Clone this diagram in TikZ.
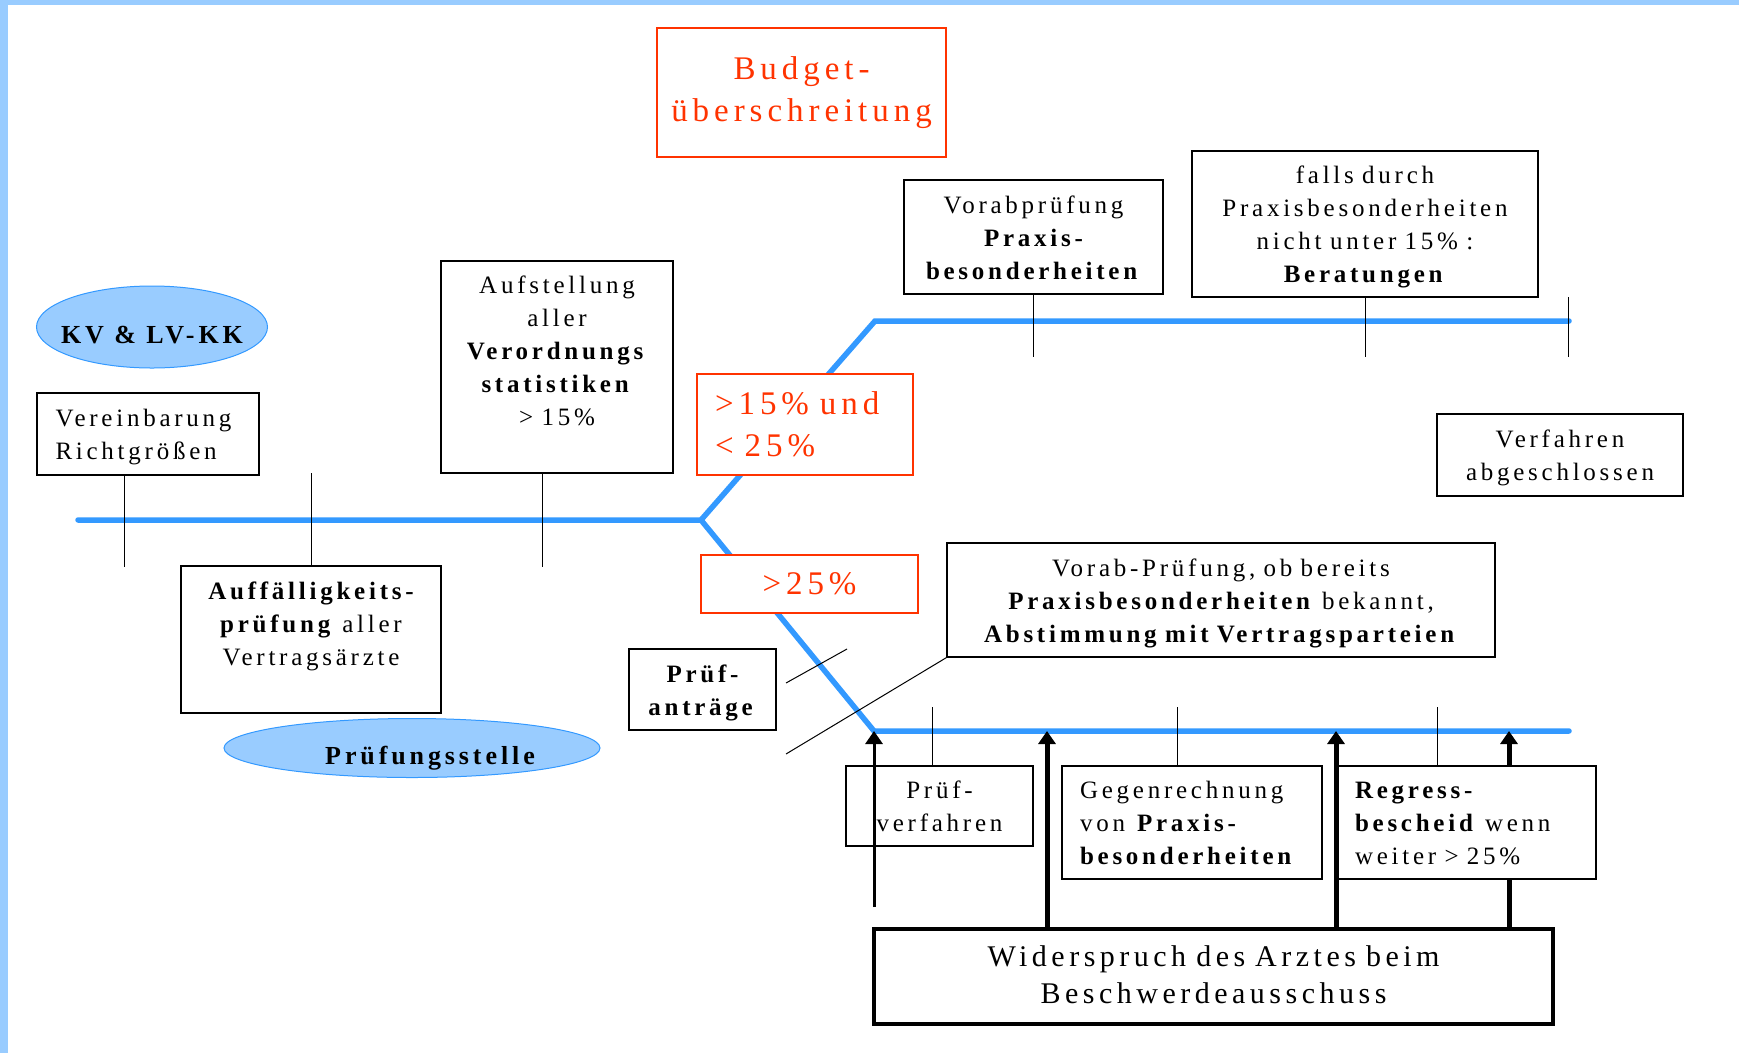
\documentclass[tikz,border=0pt]{standalone}
\usepackage{fontspec}
\setmainfont{Liberation Serif}[LetterSpace=15]
\usetikzlibrary{shapes.geometric,arrows.meta}
\definecolor{spineblue}{HTML}{3399FF}
\definecolor{lightblue}{HTML}{99CCFF}
\definecolor{alarmred}{HTML}{FF3300}

\begin{document}
\begin{tikzpicture}[x=1pt, y=-1pt,
  font=\fontsize{25}{33}\selectfont,
  box/.style={draw, line width=1.2pt, fill=white, align=center, inner sep=0pt,
    execute at begin node={\rule{0pt}{28pt}}, execute at end node={\strut}},
  redbox/.style={draw=alarmred, line width=1.2pt, fill=white, align=center, inner sep=0pt,
    text=alarmred, font=\fontsize{33}{42}\selectfont},
  party/.style={ellipse, draw=spineblue, fill=lightblue, line width=1pt, inner sep=0pt,
    text height=33pt, text depth=0pt, font=\fontsize{26}{33}\selectfont\bfseries},
  spine/.style={spineblue, line width=5.5pt, line cap=round},
  tick/.style={line width=1pt},
  uparrow/.style={line width=#1, -{Triangle[length=13pt, width=17pt]}},
  uparrow/.default=5pt]
  \useasboundingbox (0,0) rectangle (1739,1053);

  % frame
  \fill[lightblue] (0,0) rectangle (1739,5);
  \fill[lightblue] (0,0) rectangle (8,1053);

  % main line with both branches
  \coordinate (tail) at (78,520);
  \coordinate (fork) at (701,520);
  \coordinate (ubend) at (875,321);
  \coordinate (uend) at (1569,321);
  \coordinate (lbend) at (874,731);
  \coordinate (lend) at (1569,731);
  \draw[spine, line join=miter] (tail) -- (fork) -- (ubend) -- (uend);
  \draw[spine, line join=miter] (fork) -- (lbend) -- (lend);

  % appeal
  \node[box, line width=3.5pt, text width=679pt, minimum width=679pt, minimum height=95pt,
    font=\fontsize{30}{37}\selectfont] (widerspruch) at (1213.5,976.5)
    {Widerspruch des Arztes beim\\Beschwerdeausschuss};
  \coordinate (hit2) at (1047,731);
  \coordinate (hit3) at (1336,731);
  \coordinate (hit4) at (1509,731);
  \draw[uparrow] (widerspruch.north -| hit4) -- (hit4);

  % boxes
  \node[redbox, minimum width=289pt, minimum height=129pt] (budget) at (801.5,92.5)
    {Budget-\\überschreitung};
  \node[party, minimum width=231pt, minimum height=82pt] (kv) at (152,327)
    {\makebox[0pt]{KV \& LV-KK}};
  \node[box, align=left, text width=185pt, minimum width=222pt, minimum height=82pt]
    (richtgr) at (148,434) {Vereinbarung\\Richtgrößen};
  \node[box, text width=232pt, minimum height=212pt] (aufst) at (557,367)
    {Aufstellung\\aller\\\textbf{Verordnungs}\\\textbf{statistiken}\\> 15\%\\\mbox{}};
  \node[redbox, align=left, text width=180pt, minimum width=216pt, minimum height=101pt]
    (mittel) at (805,424.5) {>15\% und\\< 25\%};
  \node[box, text width=259pt, minimum height=114pt] (vorab) at (1033.5,237)
    {Vorabprüfung\\\textbf{Praxis-}\\\textbf{besonderheiten}};
  \node[box, text width=346pt, minimum height=146pt] (beratung) at (1365,224)
    {falls durch\\Praxisbesonderheiten\\nicht unter 15\% :\\\textbf{Beratungen}};
  \node[box, text width=246pt, minimum height=82pt] (ende) at (1560,455)
    {Verfahren\\abgeschlossen};
  \node[box, text width=260pt, minimum height=147pt] (auff) at (311,639.5)
    {\textbf{Auffälligkeits-}\\\textbf{prüfung} aller\\Vertragsärzte\\\mbox{}};
  \node[party, minimum width=376pt, minimum height=59pt] (pstelle) at (412,748)
    {\makebox[0pt]{\hspace{36pt}Prüfungsstelle}};
  \node[redbox, minimum width=217pt, minimum height=58pt] (hoch) at (809.5,584) {>25\%};
  \node[box, text width=147pt, minimum height=81pt] (antraege) at (702.5,689.5)
    {\textbf{Prüf-}\\\textbf{anträge}};
  \node[box, text width=548pt, minimum height=114pt] (vorabpr) at (1221,600)
    {Vorab-Prüfung, ob bereits\\\textbf{Praxisbesonderheiten} bekannt,\\
     \textbf{Abstimmung mit Vertragsparteien}};
  \node[box, text width=187pt, minimum height=80pt] (pverf) at (939.5,806)
    {Prüf-\\verfahren};
  \node[box, align=left, text width=224pt, minimum width=260pt, minimum height=113pt]
    (gegen) at (1192,822.5) {Gegenrechnung\\von \textbf{Praxis-}\\\textbf{besonderheiten}};
  \node[box, align=left, text width=223pt, minimum width=259pt, minimum height=113pt]
    (regress) at (1466.5,822.5) {\textbf{Regress-}\\\textbf{bescheid} wenn\\weiter > 25\%};

  % ticks
  \coordinate (t1) at (124,567);
  \coordinate (t2) at (311,473);
  \coordinate (t3) at (542,567);
  \draw[tick] (richtgr.south -| t1) -- (t1);
  \draw[tick] (t2) -- (auff.north);
  \draw[tick] (aufst.south -| t3) -- (t3);
  \draw[tick] (vorab.south) -- ++(0,62);
  \draw[tick] (beratung.south) -- ++(0,59);
  \draw[tick] (uend) +(-1,-24) -- +(-1,36);
  \coordinate (t7) at (932,707);
  \coordinate (t8) at (1177,707);
  \coordinate (t9) at (1437,707);
  \draw[tick] (t7) -- (t7 |- pverf.north);
  \draw[tick] (t8) -- (t8 |- gegen.north);
  \draw[tick] (t9) -- (t9 |- regress.north);

  % pointers
  \coordinate (d1) at (786,683);
  \coordinate (d2) at (847,649);
  \coordinate (d3) at (786,754);
  \draw[tick] (d1) -- (d2);
  \draw[tick] (d3) -- (vorabpr.south west);

  % arrows up to the line
  \coordinate (a1) at (874,907);
  \draw[uparrow=3pt] (a1) -- (lbend);
  \draw[uparrow] (widerspruch.north -| hit2) -- (hit2);
  \draw[uparrow] (widerspruch.north -| hit3) -- (hit3);
\end{tikzpicture}
\end{document}
